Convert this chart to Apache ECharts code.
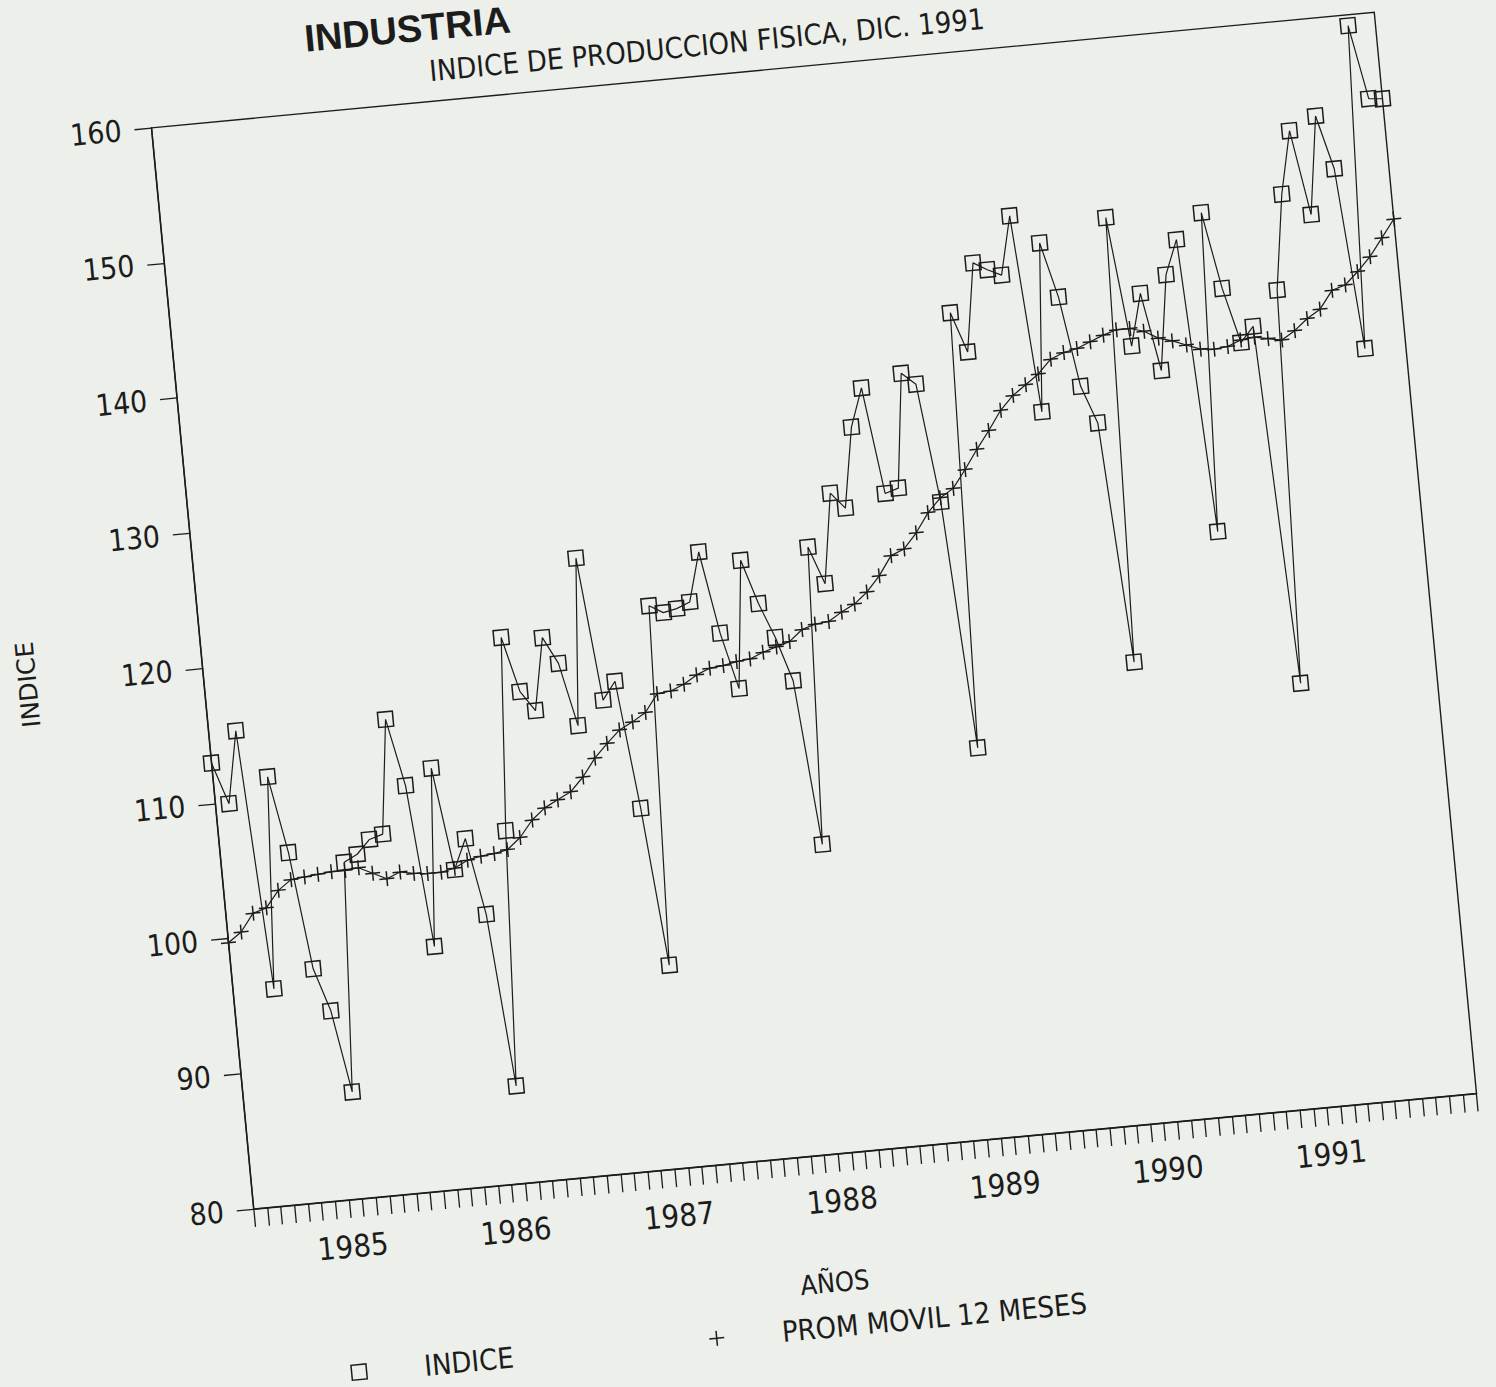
<!DOCTYPE html>
<html>
<head>
<meta charset="utf-8">
<script src="https://cdn.jsdelivr.net/npm/echarts@6/dist/echarts.min.js"></script>
<style>
html,body{margin:0;padding:0;width:1496px;height:1387px;overflow:hidden;background:#edefea;}
#chart{position:absolute;left:-100px;top:-100px;width:1696px;height:1587px;transform:rotate(-5.4deg);transform-origin:50% 50%;}
</style>
</head>
<body>
<div id="chart"></div>
<script>
// Monthly categories, Jun 1984 - Dec 1991
const months = [
  '1984-06','1984-07','1984-08','1984-09','1984-10','1984-11','1984-12',
  '1985-01','1985-02','1985-03','1985-04','1985-05','1985-06','1985-07','1985-08','1985-09','1985-10','1985-11','1985-12',
  '1986-01','1986-02','1986-03','1986-04','1986-05','1986-06','1986-07','1986-08','1986-09','1986-10','1986-11','1986-12',
  '1987-01','1987-02','1987-03','1987-04','1987-05','1987-06','1987-07','1987-08','1987-09','1987-10','1987-11','1987-12',
  '1988-01','1988-02','1988-03','1988-04','1988-05','1988-06','1988-07','1988-08','1988-09','1988-10','1988-11','1988-12',
  '1989-01','1989-02','1989-03','1989-04','1989-05','1989-06','1989-07','1989-08','1989-09','1989-10','1989-11','1989-12',
  '1990-01','1990-02','1990-03','1990-04','1990-05','1990-06','1990-07','1990-08','1990-09','1990-10','1990-11','1990-12',
  '1991-01','1991-02','1991-03','1991-04','1991-05','1991-06','1991-07','1991-08','1991-09','1991-10','1991-11','1991-12'
];

// INDICE (monthly physical production index)
const indice = [
  113.0,109.9,115.2,96.0,111.6,105.9,97.2,94.0,87.9,104.8,
  105.3,106.3,106.6,115.0,110.0,98.0,111.1,103.5,105.7,100.0,
  87.2,106.0,120.2,116.1,114.6,119.9,117.9,113.2,125.5,114.9,
  116.2,106.7,95.0,121.5,120.9,121.1,121.5,125.1,119.0,114.8,
  124.2,120.9,118.3,115.0,102.8,124.7,121.9,128.5,127.3,133.2,
  136.0,128.1,128.4,136.8,135.9,127.1,108.8,140.9,137.9,144.4,
  143.8,143.3,147.6,133.0,145.4,141.3,134.6,131.8,114.0,146.8,
  137.2,141.0,135.2,142.2,144.7,123.0,146.5,140.8,136.7,137.8,
  111.3,140.3,147.3,151.9,145.6,152.8,148.8,135.4,159.2,153.7,
  153.6
];

// PROM MOVIL 12 MESES (12-month moving average)
const promMovil = [
  99.7,100.4,101.7,102.0,103.2,103.9,104.0,104.1,104.2,104.2,
  104.3,103.8,103.3,103.7,103.5,103.4,103.4,103.6,104.1,104.3,
  104.4,104.6,105.4,106.6,107.4,107.9,108.4,109.4,110.7,111.7,
  112.6,113.1,113.7,115.0,115.1,115.5,116.1,116.5,116.6,116.8,
  116.9,117.3,117.6,117.9,118.7,119.0,119.1,119.7,120.2,121.0,
  122.1,123.5,123.9,125.0,126.4,127.4,128.0,129.3,130.7,132.0,
  133.4,134.4,135.1,135.8,136.8,137.2,137.4,137.8,138.2,138.5,
  138.5,138.2,137.6,137.3,136.9,136.5,136.4,136.5,136.9,137.0,
  136.8,136.6,137.2,138.0,138.6,139.9,140.2,141.1,142.1,143.4,
  144.7
];

// Year tick labels (placed at January of each year)
const yearLabels = ['1985','1986','1987','1988','1989','1990','1991'];

const INK = '#1c1c1c';
const NARROW = "'Liberation Sans Narrow','DejaVu Sans Condensed',sans-serif";
const PLUS = 'path://M7,0L7,14M0,7L14,7';

const chart = echarts.init(document.getElementById('chart'), null, {renderer: 'svg'});

chart.setOption({
  animation: false,
  backgroundColor: 'transparent',
  grid: {
    left: 307.3, top: 174.2, width: 1228.3, height: 1086,
    show: true, borderColor: INK, borderWidth: 1.4, backgroundColor: 'transparent'
  },
  legend: {
    left: 382, top: 1413,
    itemGap: 194, itemWidth: 15, itemHeight: 15,
    textStyle: {fontFamily: NARROW, fontSize: 29, color: INK, padding: [0, 0, 0, 53]},
    data: [
      {name: 'INDICE', icon: 'rect', itemStyle: {color: 'none', borderColor: INK, borderWidth: 1.5}},
      {name: 'PROM MOVIL 12 MESES', icon: PLUS, itemStyle: {color: 'none', borderColor: INK, borderWidth: 1.5}}
    ]
  },
  xAxis: {
    type: 'category',
    data: months,
    boundaryGap: false,
    axisLine: {lineStyle: {color: INK, width: 1.4}},
    axisTick: {show: true, interval: 0, length: 18, lineStyle: {color: INK, width: 1.3}},
    axisLabel: {
      interval: function (i, v) { return v.endsWith('-01') && yearLabels.indexOf(v.slice(0, 4)) >= 0; },
      formatter: function (v) { return v.slice(0, 4); },
      fontFamily: NARROW, fontSize: 31, color: INK, margin: 31
    },
    splitLine: {show: false}
  },
  yAxis: {
    type: 'value',
    min: 80, max: 160, interval: 10,
    axisLine: {show: true, lineStyle: {color: INK, width: 1.4}},
    axisTick: {show: true, length: 17, lineStyle: {color: INK, width: 1.3}},
    axisLabel: {fontFamily: NARROW, fontSize: 30, color: INK, margin: 30},
    splitLine: {show: false}
  },
  series: [
    {
      name: 'INDICE', type: 'line', data: indice,
      symbol: 'rect', symbolSize: 15, showAllSymbol: true,
      lineStyle: {color: INK, width: 1.2},
      itemStyle: {color: 'none', borderColor: INK, borderWidth: 1.5},
      z: 3
    },
    {
      name: 'PROM MOVIL 12 MESES', type: 'line', data: promMovil,
      symbol: PLUS, symbolSize: 15, symbolKeepAspect: true, showAllSymbol: true,
      lineStyle: {color: INK, width: 1.2},
      itemStyle: {color: 'none', borderColor: INK, borderWidth: 1.5},
      z: 2
    }
  ],
  graphic: [
    {type: 'text', x: 468, y: 119,
      style: {text: 'INDUSTRIA', fontFamily: "'Liberation Sans',sans-serif", fontWeight: 'bold', fontSize: 38, fill: INK,
        textVerticalAlign: 'bottom', verticalAlign: 'bottom'}},
    {type: 'text', x: 868, y: 144,
      style: {text: 'INDICE DE PRODUCCION FISICA, DIC. 1991', fontFamily: NARROW, fontSize: 29, fill: INK,
        textAlign: 'center', align: 'center', textVerticalAlign: 'middle', verticalAlign: 'middle'}},
    {type: 'text', x: 879, y: 1388,
      style: {text: 'AÑOS', fontFamily: NARROW, fontSize: 27, fill: INK,
        textAlign: 'center', align: 'center', textVerticalAlign: 'middle', verticalAlign: 'middle'}},
    {type: 'text', x: 132, y: 717, rotation: Math.PI / 2,
      style: {text: 'INDICE', fontFamily: "'DejaVu Sans',sans-serif", fontSize: 25, fill: INK,
        textAlign: 'center', align: 'center', textVerticalAlign: 'middle', verticalAlign: 'middle'}}
  ]
});
</script>
</body>
</html>
